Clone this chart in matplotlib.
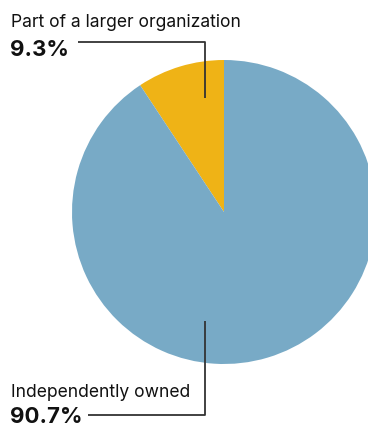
import matplotlib.pyplot as plt

# Ownership shares (%)
labels = ['Part of a larger organization', 'Independently owned']
shares = [9.3, 90.7]
colors = ['#EFB316', '#78AAC6']

W, H = 368, 427
fig = plt.figure(figsize=(W / 100, H / 100), dpi=100)

# pie axes: centre (224, 213) px, radius 152 px -> right side runs off the figure
cx, cy, r = 224, 213, 152
ax = fig.add_axes([(cx - r) / W, (H - cy - r) / H, 2 * r / W, 2 * r / H])
ax.pie(shares, colors=colors, startangle=90, counterclock=True, radius=1,
       wedgeprops=dict(linewidth=0))
ax.set_xlim(-1, 1)
ax.set_ylim(-1, 1)
ax.set_aspect('auto')
ax.axis('off')

# overlay in pixel coordinates for labels and leader lines
ov = fig.add_axes([0, 0, 1, 1])
ov.set_xlim(0, W)
ov.set_ylim(H, 0)
ov.axis('off')

font = 'Inter'
line_kw = dict(color='#333333', lw=1.3, solid_capstyle='butt')

# top label
ov.text(11, 27, labels[0], fontsize=12.6, family=font, va='baseline', ha='left', color='#111111')
ov.text(10, 56, f'{shares[0]}%', fontsize=16, family=font, weight='bold', va='baseline', ha='left', color='#111111')
ov.plot([78, 205, 205], [43, 43, 99], **line_kw)

# bottom label
ov.text(11, 397, labels[1], fontsize=12.6, family=font, va='baseline', ha='left', color='#111111')
ov.text(10, 423, f'{shares[1]}%', fontsize=16, family=font, weight='bold', va='baseline', ha='left', color='#111111')
ov.plot([88, 205, 205], [416, 416, 322], **line_kw)

fig.savefig('out.png', dpi=100)
